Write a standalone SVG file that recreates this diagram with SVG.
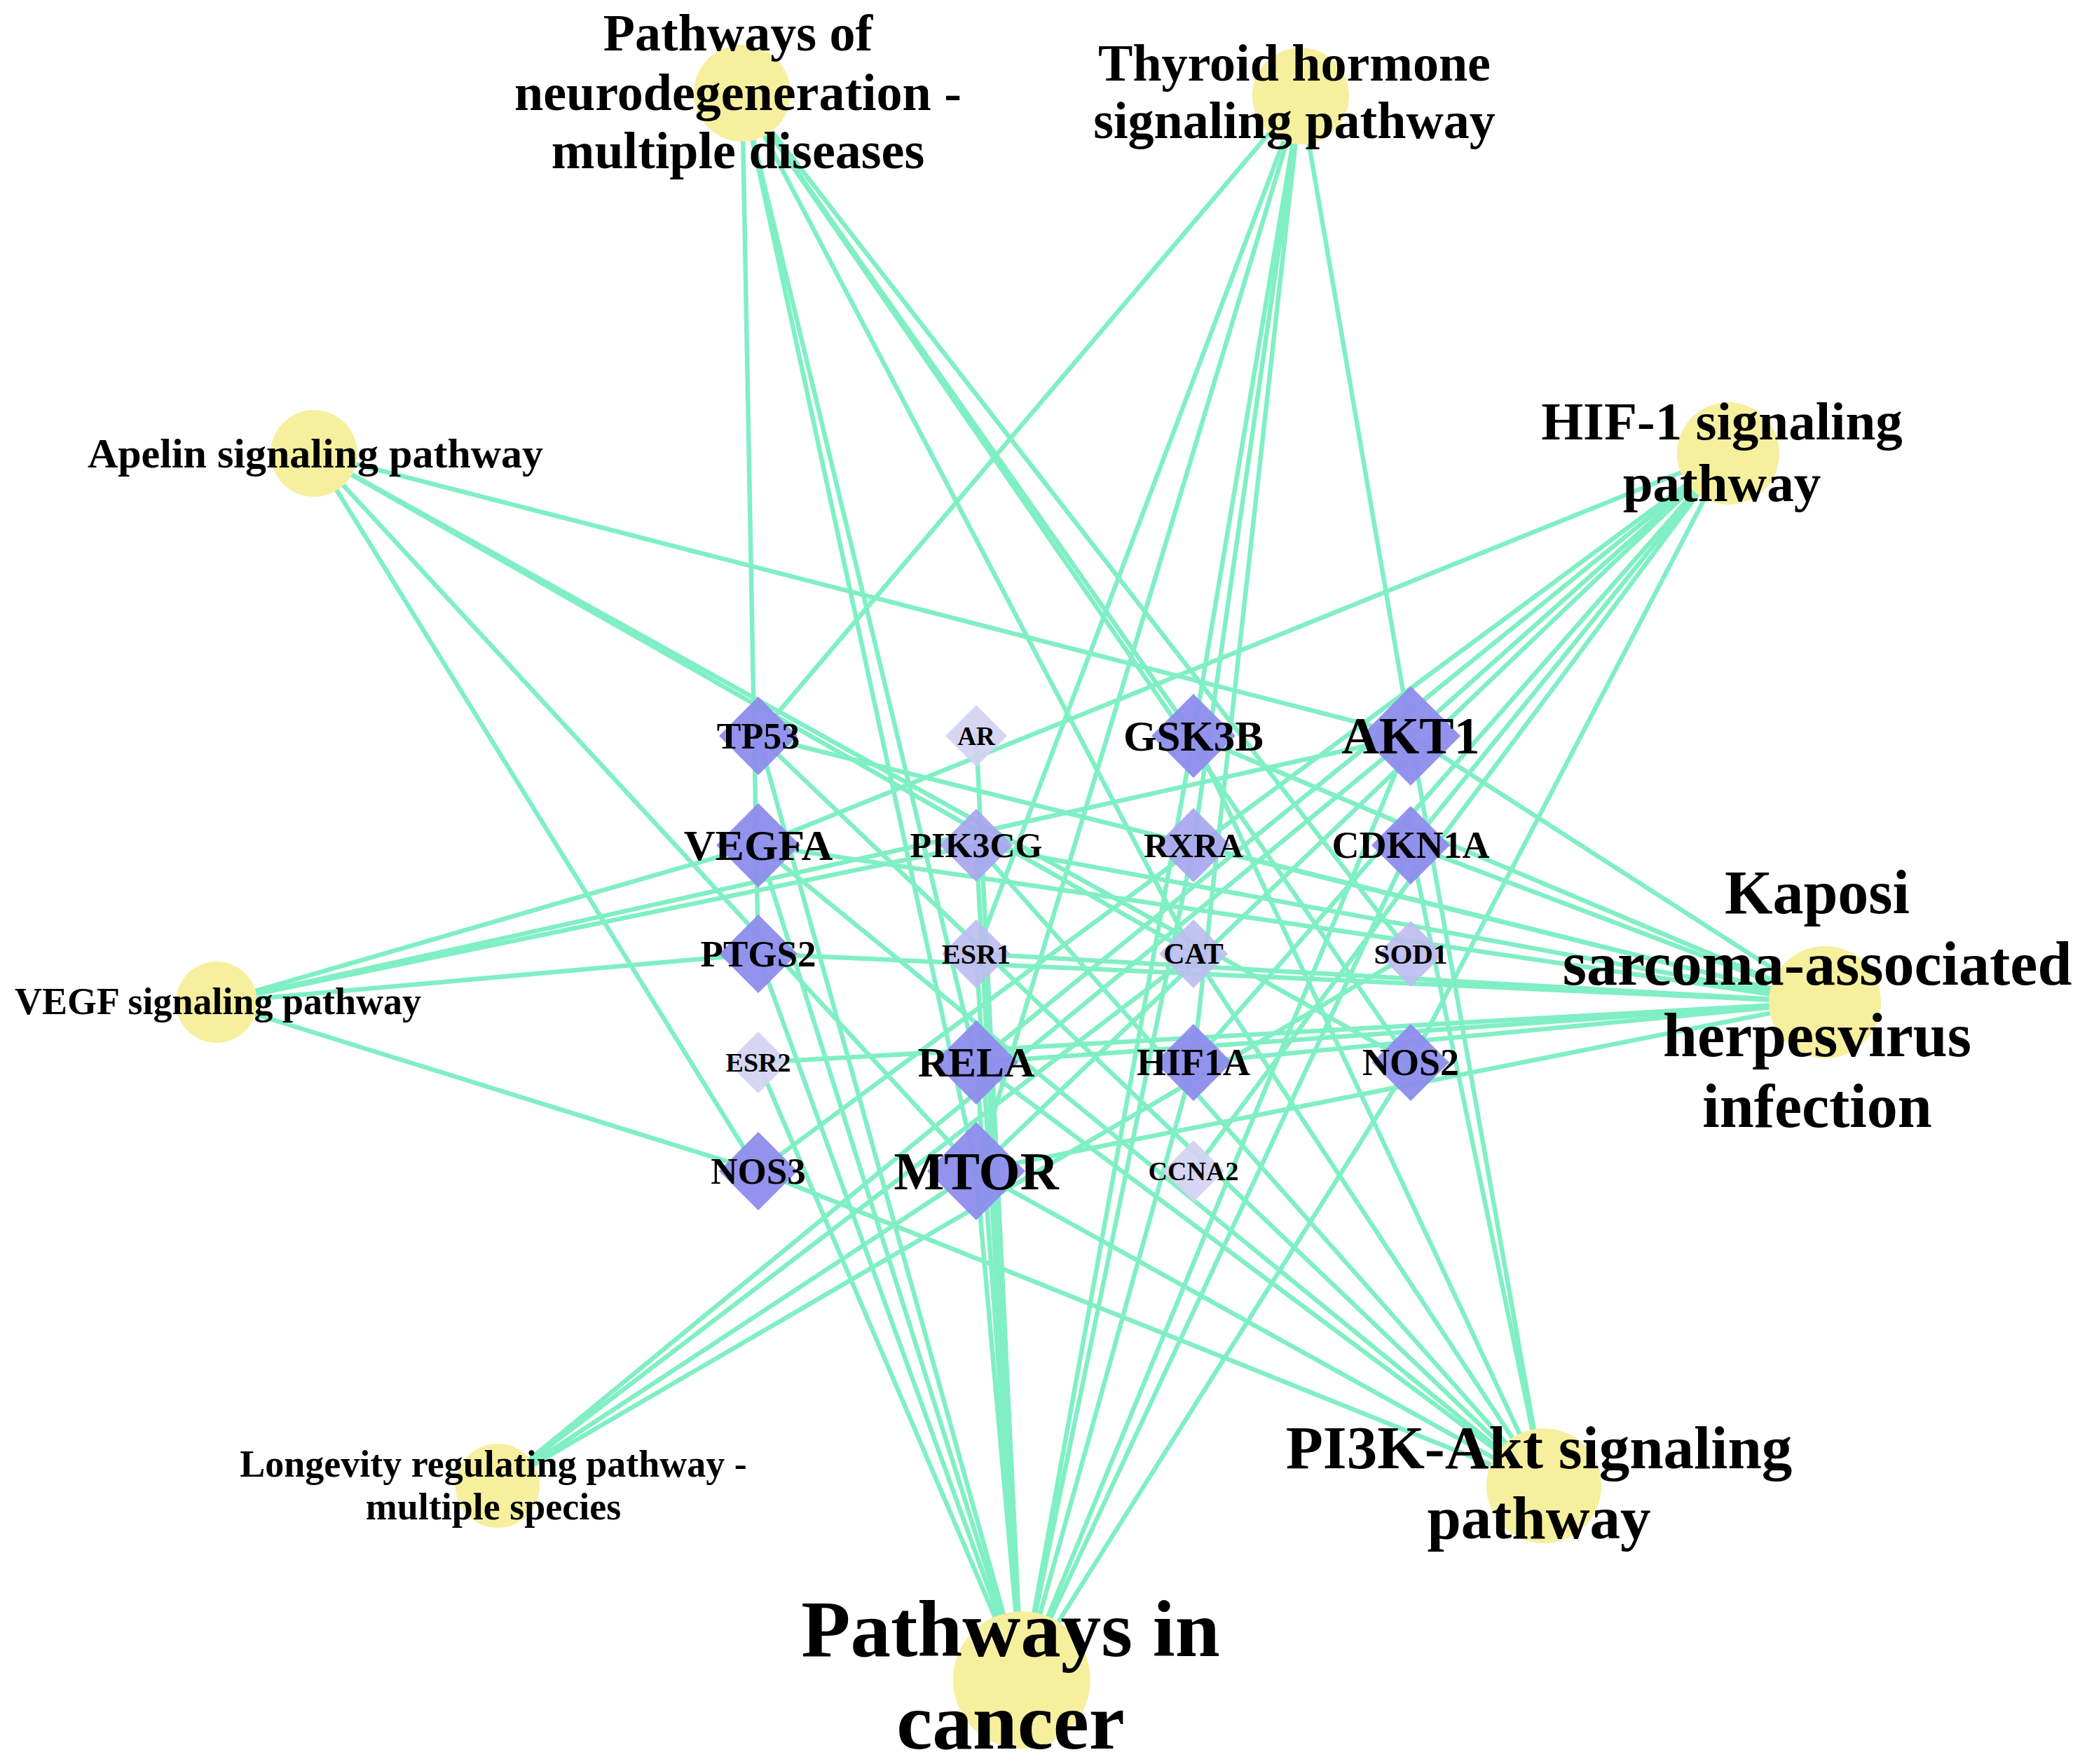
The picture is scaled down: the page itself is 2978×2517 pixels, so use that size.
<svg xmlns="http://www.w3.org/2000/svg" width="2978" height="2517" viewBox="0 0 2978 2517">
<style>
.e{stroke:#80efc6;stroke-width:6.5;fill:none;stroke-linecap:round}
.pw{fill:#f6ef9e}
.g1{fill:#8d8cec;fill-opacity:0.95}
.g2{fill:#a7a6ee;fill-opacity:0.92}
.g3{fill:#bdbcf0;fill-opacity:0.9}
.g4{fill:#d3d1f1;fill-opacity:0.9}
text{font-family:"Liberation Serif","Times New Roman",serif;font-weight:bold;fill:#000;text-anchor:middle}
</style>
<rect width="2978" height="2517" fill="#ffffff"/>
<g id="edges">
<!-- Neurodegeneration -->
<line class="e" x1="1059" y1="133" x2="1082" y2="1361"/>
<line class="e" x1="1059" y1="133" x2="1393" y2="1671"/>
<line class="e" x1="1059" y1="133" x2="1393" y2="1516"/>
<line class="e" x1="1059" y1="133" x2="1703" y2="1361"/>
<line class="e" x1="1059" y1="133" x2="1703" y2="1050"/>
<line class="e" x1="1059" y1="133" x2="2013" y2="1516"/>
<line class="e" x1="1059" y1="133" x2="2013" y2="1361"/>
<!-- Thyroid -->
<line class="e" x1="1856" y1="137" x2="1082" y2="1050"/>
<line class="e" x1="1856" y1="137" x2="1393" y2="1361"/>
<line class="e" x1="1856" y1="137" x2="1393" y2="1671"/>
<line class="e" x1="1856" y1="137" x2="1703" y2="1206"/>
<line class="e" x1="1856" y1="137" x2="1703" y2="1516"/>
<line class="e" x1="1856" y1="137" x2="1703" y2="1050"/>
<line class="e" x1="1856" y1="137" x2="2013" y2="1050"/>
<!-- Apelin -->
<line class="e" x1="448" y1="647" x2="2013" y2="1050"/>
<line class="e" x1="448" y1="647" x2="1082" y2="1671"/>
<line class="e" x1="448" y1="647" x2="1393" y2="1671"/>
<line class="e" x1="448" y1="647" x2="2013" y2="1516"/>
<line class="e" x1="448" y1="647" x2="1703" y2="1361"/>
<!-- HIF-1 -->
<line class="e" x1="2466" y1="647" x2="1082" y2="1206"/>
<line class="e" x1="2466" y1="647" x2="1082" y2="1671"/>
<line class="e" x1="2466" y1="647" x2="1393" y2="1516"/>
<line class="e" x1="2466" y1="647" x2="2013" y2="1050"/>
<line class="e" x1="2466" y1="647" x2="1393" y2="1671"/>
<line class="e" x1="2466" y1="647" x2="1703" y2="1516"/>
<line class="e" x1="2466" y1="647" x2="2013" y2="1206"/>
<line class="e" x1="2466" y1="647" x2="2013" y2="1516"/>
<line class="e" x1="2466" y1="647" x2="1703" y2="1671"/>
<!-- Kaposi -->
<line class="e" x1="2604" y1="1430" x2="1703" y2="1050"/>
<line class="e" x1="2604" y1="1430" x2="2013" y2="1206"/>
<line class="e" x1="2604" y1="1430" x2="1082" y2="1050"/>
<line class="e" x1="2604" y1="1430" x2="1703" y2="1206"/>
<line class="e" x1="2604" y1="1430" x2="1393" y2="1206"/>
<line class="e" x1="2604" y1="1430" x2="1082" y2="1206"/>
<line class="e" x1="2604" y1="1430" x2="1082" y2="1361"/>
<line class="e" x1="2604" y1="1430" x2="1393" y2="1361"/>
<line class="e" x1="2604" y1="1430" x2="1082" y2="1516"/>
<line class="e" x1="2604" y1="1430" x2="1393" y2="1516"/>
<line class="e" x1="2604" y1="1430" x2="1703" y2="1516"/>
<line class="e" x1="2604" y1="1430" x2="1393" y2="1671"/>
<line class="e" x1="2604" y1="1430" x2="2013" y2="1050"/>
<!-- VEGF -->
<line class="e" x1="309" y1="1430" x2="1082" y2="1206"/>
<line class="e" x1="309" y1="1430" x2="2013" y2="1050"/>
<line class="e" x1="309" y1="1430" x2="1393" y2="1206"/>
<line class="e" x1="309" y1="1430" x2="1082" y2="1361"/>
<line class="e" x1="309" y1="1430" x2="1082" y2="1671"/>
<!-- Longevity -->
<line class="e" x1="710" y1="2120" x2="2013" y2="1050"/>
<line class="e" x1="710" y1="2120" x2="1703" y2="1361"/>
<line class="e" x1="710" y1="2120" x2="1393" y2="1671"/>
<line class="e" x1="710" y1="2120" x2="2013" y2="1361"/>
<!-- PI3K-Akt -->
<line class="e" x1="2203" y1="2120" x2="1082" y2="1671"/>
<line class="e" x1="2203" y1="2120" x2="1082" y2="1206"/>
<line class="e" x1="2203" y1="2120" x2="1393" y2="1516"/>
<line class="e" x1="2203" y1="2120" x2="1082" y2="1050"/>
<line class="e" x1="2203" y1="2120" x2="1393" y2="1206"/>
<line class="e" x1="2203" y1="2120" x2="1703" y2="1361"/>
<line class="e" x1="2203" y1="2120" x2="1703" y2="1050"/>
<line class="e" x1="2203" y1="2120" x2="2013" y2="1050"/>
<line class="e" x1="2203" y1="2120" x2="2013" y2="1206"/>
<line class="e" x1="2203" y1="2120" x2="1393" y2="1671"/>
<!-- Pathways in cancer -->
<line class="e" x1="1458" y1="2397" x2="1082" y2="1516"/>
<line class="e" x1="1458" y1="2397" x2="1082" y2="1050"/>
<line class="e" x1="1458" y1="2397" x2="1082" y2="1206"/>
<line class="e" x1="1458" y1="2397" x2="1082" y2="1361"/>
<line class="e" x1="1458" y1="2397" x2="1393" y2="1050"/>
<line class="e" x1="1458" y1="2397" x2="1393" y2="1206"/>
<line class="e" x1="1458" y1="2397" x2="1393" y2="1361"/>
<line class="e" x1="1458" y1="2397" x2="1393" y2="1516"/>
<line class="e" x1="1458" y1="2397" x2="1393" y2="1671"/>
<line class="e" x1="1458" y1="2397" x2="1703" y2="1050"/>
<line class="e" x1="1458" y1="2397" x2="1703" y2="1206"/>
<line class="e" x1="1458" y1="2397" x2="1703" y2="1516"/>
<line class="e" x1="1458" y1="2397" x2="2013" y2="1050"/>
<line class="e" x1="1458" y1="2397" x2="2013" y2="1206"/>
<line class="e" x1="1458" y1="2397" x2="2013" y2="1516"/>
</g>
<g id="pathway-neuro"><circle class="pw" cx="1059" cy="133" r="69"/><text font-size="74"><tspan x="1053" y="72">Pathways of</tspan><tspan x="1053" y="157">neurodegeneration -</tspan><tspan x="1053" y="240">multiple diseases</tspan></text></g>
<g id="pathway-thyroid"><circle class="pw" cx="1856" cy="137" r="69"/><text font-size="74"><tspan x="1847" y="115">Thyroid hormone</tspan><tspan x="1847" y="197">signaling pathway</tspan></text></g>
<g id="pathway-apelin"><circle class="pw" cx="448" cy="647" r="62"/><text font-size="60" x="450" y="667">Apelin signaling pathway</text></g>
<g id="pathway-hif1"><circle class="pw" cx="2466" cy="647" r="73"/><text font-size="77"><tspan x="2457" y="627">HIF-1 signaling</tspan><tspan x="2457" y="715">pathway</tspan></text></g>
<g id="pathway-kaposi"><circle class="pw" cx="2604" cy="1430" r="80"/><text font-size="88"><tspan x="2593" y="1303">Kaposi</tspan><tspan x="2593" y="1405">sarcoma-associated</tspan><tspan x="2593" y="1507">herpesvirus</tspan><tspan x="2593" y="1608">infection</tspan></text></g>
<g id="pathway-vegf"><circle class="pw" cx="309" cy="1430" r="58"/><text font-size="54" x="311" y="1447">VEGF signaling pathway</text></g>
<g id="pathway-longevity"><circle class="pw" cx="710" cy="2120" r="60"/><text font-size="54"><tspan x="704" y="2107">Longevity regulating pathway -</tspan><tspan x="704" y="2168">multiple species</tspan></text></g>
<g id="pathway-pi3k"><circle class="pw" cx="2203" cy="2120" r="82"/><text font-size="87"><tspan x="2196" y="2095">PI3K-Akt signaling</tspan><tspan x="2196" y="2195">pathway</tspan></text></g>
<g id="pathway-cancer"><circle class="pw" cx="1458" cy="2397" r="98"/><text font-size="115"><tspan x="1442" y="2363">Pathways in</tspan><tspan x="1442" y="2495">cancer</tspan></text></g>
<g id="gene-TP53"><polygon class="g1" points="1082,994 1138,1050 1082,1106 1026,1050"/><text font-size="52" x="1082" y="1068">TP53</text></g>
<g id="gene-AR"><polygon class="g4" points="1393,1006 1437,1050 1393,1094 1349,1050"/><text font-size="37" x="1393" y="1063">AR</text></g>
<g id="gene-GSK3B"><polygon class="g1" points="1703,990 1763,1050 1703,1110 1643,1050"/><text font-size="61" x="1703" y="1071">GSK3B</text></g>
<g id="gene-AKT1"><polygon class="g1" points="2013,979 2084,1050 2013,1121 1942,1050"/><text font-size="74" x="2013" y="1075">AKT1</text></g>
<g id="gene-VEGFA"><polygon class="g1" points="1082,1146 1142,1206 1082,1266 1022,1206"/><text font-size="62" x="1082" y="1227">VEGFA</text></g>
<g id="gene-PIK3CG"><polygon class="g2" points="1393,1154 1445,1206 1393,1258 1341,1206"/><text font-size="50" x="1393" y="1223">PIK3CG</text></g>
<g id="gene-RXRA"><polygon class="g2" points="1703,1153 1756,1206 1703,1259 1650,1206"/><text font-size="49" x="1703" y="1223">RXRA</text></g>
<g id="gene-CDKN1A"><polygon class="g1" points="2013,1150 2069,1206 2013,1262 1957,1206"/><text font-size="54" x="2013" y="1224">CDKN1A</text></g>
<g id="gene-PTGS2"><polygon class="g1" points="1082,1305 1138,1361 1082,1417 1026,1361"/><text font-size="53" x="1082" y="1379">PTGS2</text></g>
<g id="gene-ESR1"><polygon class="g3" points="1393,1312 1442,1361 1393,1410 1344,1361"/><text font-size="40" x="1393" y="1375">ESR1</text></g>
<g id="gene-CAT"><polygon class="g3" points="1703,1312 1752,1361 1703,1410 1654,1361"/><text font-size="42" x="1703" y="1375">CAT</text></g>
<g id="gene-SOD1"><polygon class="g3" points="2013,1314 2060,1361 2013,1408 1966,1361"/><text font-size="41" x="2013" y="1375">SOD1</text></g>
<g id="gene-ESR2"><polygon class="g4" points="1082,1472 1126,1516 1082,1560 1038,1516"/><text font-size="38" x="1082" y="1529">ESR2</text></g>
<g id="gene-RELA"><polygon class="g1" points="1393,1456 1453,1516 1393,1576 1333,1516"/><text font-size="60" x="1393" y="1536">RELA</text></g>
<g id="gene-HIF1A"><polygon class="g1" points="1703,1461 1758,1516 1703,1571 1648,1516"/><text font-size="54" x="1703" y="1534">HIF1A</text></g>
<g id="gene-NOS2"><polygon class="g1" points="2013,1461 2068,1516 2013,1571 1958,1516"/><text font-size="54" x="2013" y="1534">NOS2</text></g>
<g id="gene-NOS3"><polygon class="g1" points="1082,1615 1138,1671 1082,1727 1026,1671"/><text font-size="53" x="1082" y="1689">NOS3</text></g>
<g id="gene-MTOR"><polygon class="g1" points="1393,1601 1463,1671 1393,1741 1323,1671"/><text font-size="76" x="1393" y="1697">MTOR</text></g>
<g id="gene-CCNA2"><polygon class="g4" points="1703,1627 1747,1671 1703,1715 1659,1671"/><text font-size="38" x="1703" y="1684">CCNA2</text></g>
</svg>
